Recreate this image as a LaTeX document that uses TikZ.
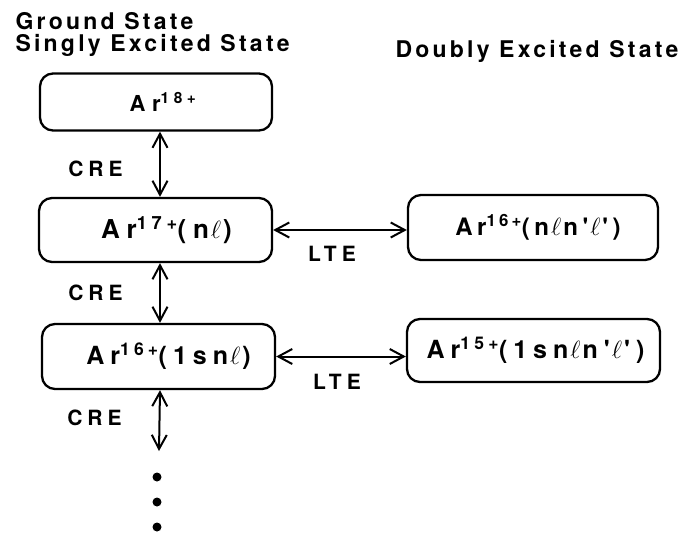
\documentclass[tikz,border=0pt]{standalone}
\usepackage{fontspec}
\setmainfont{TeX Gyre Heros}[Ligatures=TeXOff]
\newfontfamily\headfont{texgyreheros-bold.otf}[LetterSpace=14, Ligatures=TeXOff]
\newfontfamily\tagfont{texgyreheros-bold.otf}[LetterSpace=24, Ligatures=TeXOff]
\newfontfamily\ionfont{texgyreheros-bold.otf}[Ligatures=TeXOff]
\usepackage{tikz}
\usetikzlibrary{arrows.meta, positioning}

% orbital quantum number, set a little apart
\newcommand{\orb}{\kern2pt$\ell$\kern2pt}
% ion label font: size and tracking
\newcommand{\ionsize}[2]{\ionfont\addfontfeatures{LetterSpace=#2}\fontsize{#1}{#1}\selectfont}

\tikzset{
  ionbox/.style={draw, line width=2.3pt, rounded corners=13pt, inner sep=0pt,
    font=\ionsize{25}{24}},
  twoway/.style={<->, >={Straight Barb[length=14pt,width=15pt]}, line width=2pt},
  tag/.style={font=\tagfont\fontsize{21}{25}\selectfont},
  heading/.style={font=\headfont\fontsize{23}{27}\selectfont},
  vdot/.style={circle, fill, inner sep=0pt, minimum size=9pt}
}

\begin{document}
\begin{tikzpicture}[x=1pt, y=-1pt]
  \useasboundingbox (0,0) rectangle (682,533);

  % column headings
  \node[heading, anchor=base west] (hground) at (12,29) {Ground State};
  \node[heading, anchor=base west] (hsingly) at (12,51) {Singly Excited State};
  \node[heading, anchor=base east] (hdoubly) at (682,57) {Doubly Excited State};

  % singly excited ladder
  \node[ionbox, minimum width=232pt, minimum height=57pt, font=\ionsize{22}{30}]
    (ar18) at (156,102) {\hspace*{14pt}Ar\textsuperscript{18+}};
  \node[ionbox, minimum width=233pt, minimum height=64pt, font=\ionsize{26}{26}]
    (ar17) at (155.5,230) {\hspace*{22pt}Ar\textsuperscript{17+}(n\orb)};
  \node[ionbox, minimum width=233pt, minimum height=65pt]
    (ar16) at (158.5,356.5) {\hspace*{20pt}Ar\textsuperscript{16+}(1sn\orb)};

  % doubly excited states
  \node[ionbox, minimum width=250pt, minimum height=65pt, font=\ionsize{24}{19}]
    (ar16d) at (533,227.5) {\hspace*{10pt}Ar\textsuperscript{16+}(n\orb n'\orb')};
  \node[ionbox, minimum width=253pt, minimum height=63pt]
    (ar15d) at (533.5,350.5) {\hspace*{4pt}Ar\textsuperscript{15+}(1sn\orb n'\orb')};

  % vertical line of the ladder
  \coordinate (col) at (160,0);
  \coordinate (tail) at (159,451);

  \draw[twoway] (ar18.south -| col) -- (ar17.north -| col);
  \draw[twoway] (ar17.south -| col) -- (ar16.north -| col);
  \draw[twoway] (ar16.south -| col) -- (tail);

  \draw[twoway] (ar17.east) -- (ar17.east -| ar16d.west);
  \draw[twoway] (ar16.east) -- (ar16.east -| ar15d.west);

  \node[tag] (cre1) at (95.5,168.5) {CRE};
  \node[tag] (cre2) at (95.5,293) {CRE};
  \node[tag] (cre3) at (94.5,417.5) {CRE};
  \node[tag] (lte1) at (332,254) {LTE};
  \node[tag] (lte2) at (337,382) {LTE};

  % and so on
  \node[vdot] (d1) at (157,477) {};
  \node[vdot] (d2) at (157,502) {};
  \node[vdot] (d3) at (157,527) {};
\end{tikzpicture}
\end{document}
